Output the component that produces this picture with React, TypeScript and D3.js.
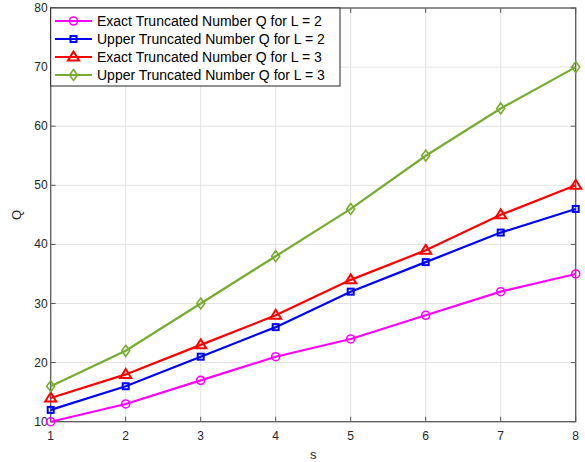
import React from "react";
import * as d3 from "d3";

const sValues = [1, 2, 3, 4, 5, 6, 7, 8];
const exactL2 = [10, 13, 17, 21, 24, 28, 32, 35];
const upperL2 = [12, 16, 21, 26, 32, 37, 42, 46];
const exactL3 = [14, 18, 23, 28, 34, 39, 45, 50];
const upperL3 = [16, 22, 30, 38, 46, 55, 63, 70];
const seriesNames = [
  "Exact Truncated Number Q for L = 2",
  "Upper Truncated Number Q for L = 2",
  "Exact Truncated Number Q for L = 3",
  "Upper Truncated Number Q for L = 3",
];
const xTicks = [1, 2, 3, 4, 5, 6, 7, 8];
const yTicks = [10, 20, 30, 40, 50, 60, 70, 80];

const W = 585;
const H = 462;
const left = 50.7;
const right = 575.7;
const top = 8;
const bottom = 421.7;

const series = [
  { name: seriesNames[0], values: exactL2, color: "#ff00ff", marker: "circle" },
  { name: seriesNames[1], values: upperL2, color: "#0000ff", marker: "square" },
  { name: seriesNames[2], values: exactL3, color: "#ff0000", marker: "triangle" },
  { name: seriesNames[3], values: upperL3, color: "#77ac30", marker: "diamond" },
];

function Marker({ type, x, y, color }: { type: string; x: number; y: number; color: string }) {
  const common = { fill: "none", stroke: color, strokeWidth: 1.6 };
  if (type === "circle") return <circle cx={x} cy={y} r={4} {...common} />;
  if (type === "square") return <rect x={x - 3} y={y - 3} width={6} height={6} {...common} strokeWidth={2} />;
  if (type === "triangle")
    return <path d={`M${x},${y - 5.5} L${x + 5.5},${y + 3.5} L${x - 5.5},${y + 3.5} Z`} {...common} strokeWidth={2} />;
  return <path d={`M${x},${y - 5.5} L${x + 4},${y} L${x},${y + 5.5} L${x - 4},${y} Z`} {...common} />;
}

export default function App() {
  const x = d3.scaleLinear().domain([1, 8]).range([left, right]);
  const y = d3.scaleLinear().domain([10, 80]).range([bottom, top]);
  const line = d3
    .line<number>()
    .x((_, i) => x(sValues[i]))
    .y((d) => y(d));
  const axisColor = "#5a5a5a";
  const font = "Helvetica, Arial, 'Liberation Sans', sans-serif";

  return (
    <svg
      width={W}
      height={H}
      style={{ position: "absolute", left: 0, top: 0, background: "#fff" }}
      fontFamily={font}
    >
      <rect x={0} y={0} width={W} height={H} fill="#fff" />
      {/* grid */}
      {xTicks.map((t) => (
        <line key={"gx" + t} x1={x(t)} x2={x(t)} y1={top} y2={bottom} stroke="#e3e3e3" strokeWidth={1} />
      ))}
      {yTicks.map((t) => (
        <line key={"gy" + t} x1={left} x2={right} y1={y(t)} y2={y(t)} stroke="#e3e3e3" strokeWidth={1} />
      ))}
      {/* ticks */}
      {xTicks.map((t) => (
        <g key={"tx" + t}>
          <line x1={x(t)} x2={x(t)} y1={bottom} y2={bottom - 5} stroke={axisColor} />
          <line x1={x(t)} x2={x(t)} y1={top} y2={top + 5} stroke={axisColor} />
          <text x={x(t)} y={bottom + 18} textAnchor="middle" fontSize={12} fill="#262626">
            {t}
          </text>
        </g>
      ))}
      {yTicks.map((t) => (
        <g key={"ty" + t}>
          <line x1={left} x2={left + 5} y1={y(t)} y2={y(t)} stroke={axisColor} />
          <line x1={right} x2={right - 5} y1={y(t)} y2={y(t)} stroke={axisColor} />
          <text x={left - 3} y={y(t) + 4} textAnchor="end" fontSize={12} fill="#262626">
            {t}
          </text>
        </g>
      ))}
      {/* box */}
      <rect x={left} y={top} width={right - left} height={bottom - top} fill="none" stroke={axisColor} strokeWidth={1.3} />
      {/* series */}
      {series.map((s) => (
        <g key={s.name}>
          <path d={line(s.values) || ""} fill="none" stroke={s.color} strokeWidth={2.2} />
          {s.values.map((v, i) => (
            <Marker key={i} type={s.marker} x={x(sValues[i])} y={y(v)} color={s.color} />
          ))}
        </g>
      ))}
      {/* axis labels */}
      <text x={(left + right) / 2} y={bottom + 37} textAnchor="middle" fontSize={13} fill="#262626">
        s
      </text>
      <text
        transform={`translate(${21},${(top + bottom) / 2}) rotate(-90)`}
        textAnchor="middle"
        fontSize={13}
        fill="#262626"
      >
        Q
      </text>
      {/* legend */}
      <rect x={left} y={top} width={340 - left} height={86 - top} fill="#fff" stroke="#262626" strokeWidth={1} />
      {series.map((s, i) => {
        const cy = 21 + i * 18;
        return (
          <g key={"lg" + i}>
            <line x1={55} x2={92} y1={cy} y2={cy} stroke={s.color} strokeWidth={2.2} />
            <Marker type={s.marker} x={73.5} y={cy} color={s.color} />
            <text x={97} y={cy + 5} fontSize={14} fill="#000">
              {s.name}
            </text>
          </g>
        );
      })}
    </svg>
  );
}
